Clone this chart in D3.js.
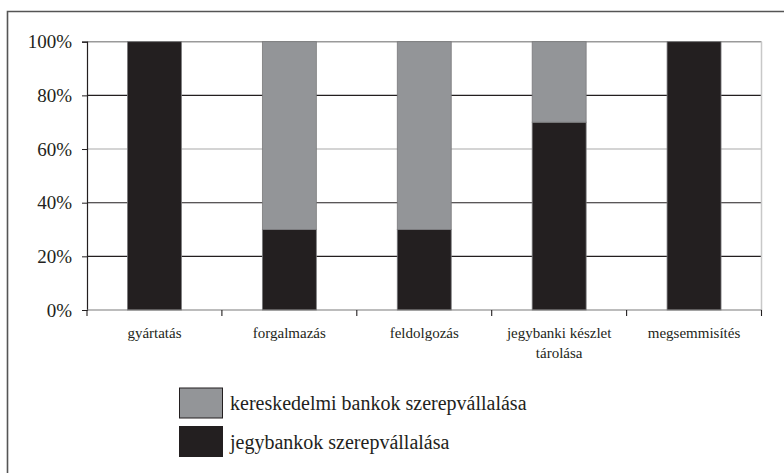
<!DOCTYPE html>
<html>
<head>
<meta charset="utf-8">
<script src="https://cdn.jsdelivr.net/npm/d3@7"></script>
</head>
<body style="margin:0;padding:0;background:#fff;font-family:'Liberation Serif'">
<svg id="fig" width="784" height="473" style="display:block"></svg>
<script>
const categories = ["gyártatás", "forgalmazás", "feldolgozás", "jegybanki készlet|tárolása", "megsemmisítés"];
const jegybankok = [100, 30, 30, 70, 100];
const kereskedelmi = [0, 70, 70, 30, 0];
const seriesNames = ["jegybankok szerepvállalása", "kereskedelmi bankok szerepvállalása"];
const yTicks = [0, 20, 40, 60, 80, 100];

const colors = { jegy: "#231f20", ker: "#939598" };
const TXT = "#231f20";

const svg = d3.select("#fig");
const W = 784, H = 473;

svg.append("path")
  .attr("d", `M7.5,${H} L7.5,11.5 L${W},11.5`)
  .attr("fill", "none").attr("stroke", "#555").attr("stroke-width", 1.6);

const plot = { left: 87, right: 761.5, top: 41.7, bottom: 310 };

const x = d3.scaleBand().domain(categories).range([plot.left, plot.right]).paddingInner(0.6).paddingOuter(0.3);
const xOuter = d3.scaleBand().domain(categories).range([plot.left, plot.right]);
const y = d3.scaleLinear().domain([0, 100]).range([plot.bottom, plot.top]);

const gridColor = { 20: "#231f20", 40: "#231f20", 60: "#aaaaaa", 80: "#231f20", 100: "#9a9a9a" };
svg.append("g").selectAll("line").data(yTicks.filter(d => d > 0)).join("line")
  .attr("x1", plot.left).attr("x2", plot.right)
  .attr("y1", d => y(d)).attr("y2", d => y(d))
  .attr("stroke", d => gridColor[d]).attr("stroke-width", d => d === 100 ? 1.5 : 1.1);

svg.append("line").attr("x1", plot.right).attr("x2", plot.right)
  .attr("y1", plot.top).attr("y2", plot.bottom)
  .attr("stroke", "#c8c8c8").attr("stroke-width", 1.5);

const data = categories.map((c, i) => ({ cat: c, jegy: jegybankok[i], ker: kereskedelmi[i] }));
const stack = d3.stack().keys(["jegy", "ker"])(data);

svg.append("g").selectAll("g").data(stack).join("g")
  .attr("fill", d => colors[d.key])
  .selectAll("rect").data(d => d.filter(p => p[1] - p[0] > 0)).join("rect")
  .attr("x", d => x(d.data.cat))
  .attr("width", x.bandwidth())
  .attr("y", d => y(d[1]))
  .attr("height", d => y(d[0]) - y(d[1]))
  .attr("stroke", "#7a7a7c").attr("stroke-width", 0.8);

const yAxis = d3.axisLeft(y).tickValues(yTicks).tickFormat(d => d + "%").tickSize(5).tickPadding(10);
const ya = svg.append("g").attr("transform", `translate(${plot.left},0)`).call(yAxis);
ya.attr("font-family", null).attr("font-size", 19);
ya.select(".domain").attr("stroke", "#231f20").attr("stroke-width", 1.2);
ya.selectAll(".tick line").attr("stroke", "#231f20");
ya.selectAll("text").attr("font-size", 19).attr("fill", TXT);

svg.append("line").attr("x1", plot.left).attr("x2", plot.right)
  .attr("y1", plot.bottom).attr("y2", plot.bottom)
  .attr("stroke", "#7a7a7a").attr("stroke-width", 1.2);

const bounds = categories.map(c => xOuter(c)).concat([plot.right]);
svg.append("g").selectAll("line").data(bounds).join("line")
  .attr("x1", d => d).attr("x2", d => d)
  .attr("y1", plot.bottom).attr("y2", plot.bottom + 6)
  .attr("stroke", "#231f20").attr("stroke-width", 1.1);

const xl = svg.append("g").selectAll("text").data(categories).join("text")
  .attr("text-anchor", "middle")
  .attr("font-size", 15)
  .attr("fill", TXT)
  .attr("x", d => xOuter(d) + xOuter.bandwidth() / 2)
  .attr("y", 338);
xl.each(function(d) {
  const parts = d.split("|");
  const t = d3.select(this);
  parts.forEach((p, i) => {
    t.append("tspan").attr("x", xOuter(d) + xOuter.bandwidth() / 2)
      .attr("dy", i === 0 ? 0 : 20).text(p);
  });
});

const legend = [
  { name: seriesNames[1], color: colors.ker, y: 388 },
  { name: seriesNames[0], color: colors.jegy, y: 426.5 }
];
const lg = svg.append("g").selectAll("g").data(legend).join("g");
lg.append("rect").attr("x", 179.5).attr("y", d => d.y).attr("width", 43).attr("height", 30)
  .attr("fill", d => d.color).attr("stroke", "#231f20").attr("stroke-width", 1);
lg.append("text").attr("x", 230).attr("y", d => d.y + 22)
  .attr("font-size", 20).attr("fill", TXT).text(d => d.name);
</script>
</body>
</html>
